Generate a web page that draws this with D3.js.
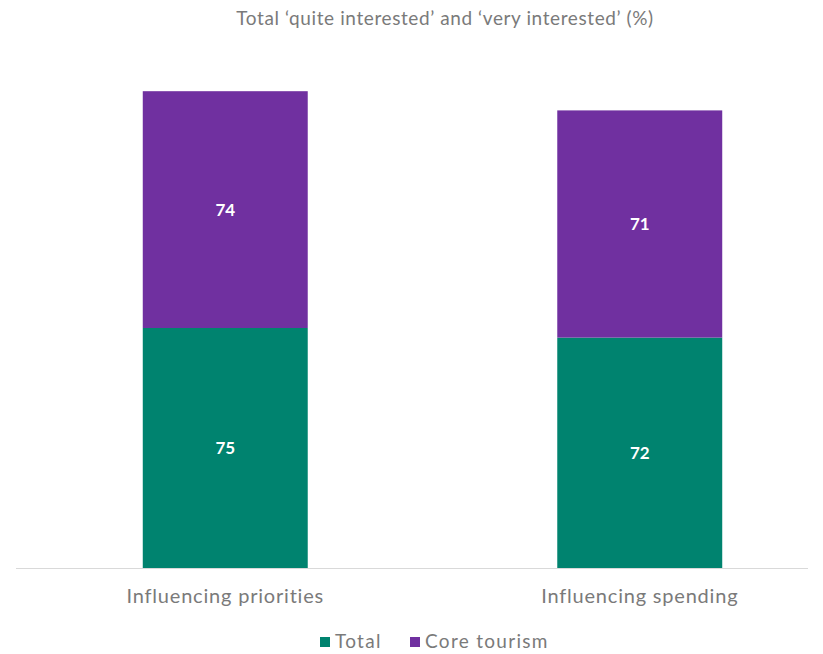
<!DOCTYPE html>
<html>
<head>
<meta charset="utf-8">
<script src="https://cdn.jsdelivr.net/npm/d3@7"></script>
<style>
  html, body { margin: 0; padding: 0; background: #fff; }
  svg { display: block; font-family: Lato, "Open Sans", sans-serif; }
</style>
</head>
<body>
<svg id="chart" width="823" height="654"></svg>
<script>
// Survey measures and the two stacked groups
const categories = ["Influencing priorities", "Influencing spending"];
const seriesNames = ["Total", "Core tourism"];
const totalValues = [75, 72];
const coreTourismValues = [74, 71];
const seriesColors = ["#00836f", "#7030a0"];
const titleText = "Total \u2018quite interested\u2019 and \u2018very interested\u2019 (%)";

const svg = d3.select("#chart");

const rows = categories.map((c, i) => ({
  category: c,
  "Total": totalValues[i],
  "Core tourism": coreTourismValues[i]
}));

const stacked = d3.stack().keys(seriesNames)(rows);

const x = d3.scaleBand()
  .domain(categories)
  .range([18, 847])
  .paddingInner(0.602)
  .paddingOuter(0.301);

const y = d3.scaleLinear()
  .domain([0, 150])
  .range([568, 88]);

const color = d3.scaleOrdinal().domain(seriesNames).range(seriesColors);

// Title
svg.append("text")
  .attr("x", 445)
  .attr("y", 25)
  .attr("text-anchor", "middle")
  .attr("font-size", 19)
  .attr("letter-spacing", 0.6)
  .attr("fill", "#7a7a7a")
  .text(titleText);

// Stacked bars
const layers = svg.append("g").selectAll("g")
  .data(stacked)
  .join("g")
  .attr("fill", d => color(d.key));

layers.selectAll("rect")
  .data(d => d)
  .join("rect")
  .attr("x", d => x(d.data.category))
  .attr("width", x.bandwidth())
  .attr("y", d => y(d[1]))
  .attr("height", d => y(d[0]) - y(d[1]));

// Segment value labels
layers.selectAll("text")
  .data(d => d.map(v => ({ v, key: d.key })))
  .join("text")
  .attr("x", d => x(d.v.data.category) + x.bandwidth() / 2)
  .attr("y", d => (y(d.v[0]) + y(d.v[1])) / 2 + 6)
  .attr("text-anchor", "middle")
  .attr("font-size", 17)
  .attr("font-weight", "bold")
  .attr("fill", "#ffffff")
  .text(d => d.v.data[d.key]);

// Baseline
svg.append("line")
  .attr("x1", 16).attr("x2", 808)
  .attr("y1", y(0) + 0.5).attr("y2", y(0) + 0.5)
  .attr("stroke", "#d9d9d9")
  .attr("stroke-width", 1);

// Category axis
const xAxis = svg.append("g")
  .attr("transform", `translate(0,${y(0)})`)
  .call(d3.axisBottom(x).tickSize(0).tickPadding(21));
xAxis.select(".domain").remove();
xAxis.selectAll("text")
  .attr("font-family", "Lato, 'Open Sans', sans-serif")
  .attr("font-size", 20)
  .attr("letter-spacing", 0.8)
  .attr("fill", "#7a7a7a");

// Legend
const legendItems = [
  { name: seriesNames[0], x: 320 },
  { name: seriesNames[1], x: 410 }
];
const legend = svg.append("g").selectAll("g")
  .data(legendItems)
  .join("g")
  .attr("transform", d => `translate(${d.x},637)`);
legend.append("rect")
  .attr("width", 10).attr("height", 10)
  .attr("fill", d => color(d.name));
legend.append("text")
  .attr("x", 15)
  .attr("y", 11)
  .attr("font-size", 19)
  .attr("letter-spacing", 1.3)
  .attr("fill", "#7a7a7a")
  .text(d => d.name);
</script>
</body>
</html>
